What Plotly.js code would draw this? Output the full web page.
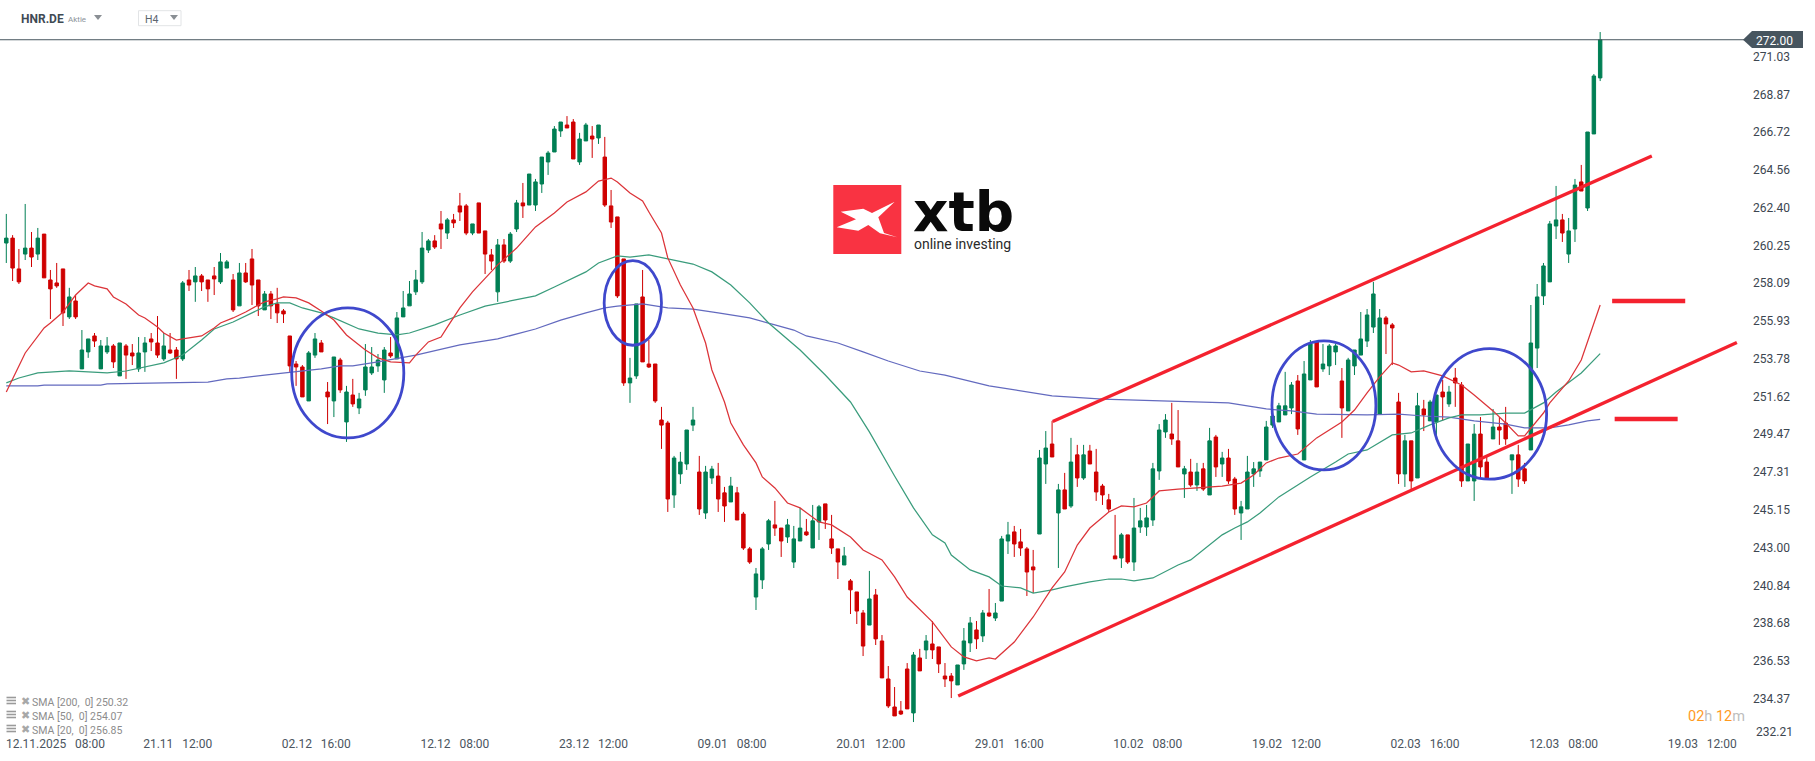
<!DOCTYPE html>
<html><head><meta charset="utf-8">
<script src="https://cdn.plot.ly/plotly-3.0.1.min.js"></script>
<style>html,body{margin:0;padding:0;background:#fff}#c{width:1815px;height:761px}</style>
</head><body><div id="c"></div>
<script>
const open=[260.39,260.67,258.91,259.76,260.10,259.76,260.90,258.28,258.11,258.91,
256.17,257.08,253.20,254.17,255.08,253.20,254.17,254.51,252.80,254.51,
254.11,253.20,254.17,254.91,254.68,253.77,254.28,254.28,253.77,258.28,
258.17,258.51,258.28,258.51,258.17,258.96,258.28,256.80,258.68,259.48,
258.28,256.57,257.48,256.91,256.51,255.08,253.48,253.31,251.37,253.99,
254.68,251.88,251.37,253.71,250.17,251.71,250.97,252.00,252.97,253.37,
252.57,254.11,253.77,256.17,256.80,257.60,258.17,259.99,260.51,261.48,
260.96,261.71,262.51,262.51,260.96,262.68,261.08,259.71,257.60,260.28,
259.36,261.19,262.68,262.56,262.56,263.76,265.02,265.59,266.79,267.13,
267.30,265.02,266.22,266.50,266.39,265.30,262.51,261.88,259.48,252.40,
252.80,257.31,253.48,253.48,250.28,250.11,246.00,247.20,247.77,249.99,
247.31,244.97,246.97,247.08,246.12,245.60,246.12,244.91,242.92,240.17,
241.15,243.20,244.29,244.11,243.60,242.17,243.37,243.89,242.97,244.46,
245.49,243.49,242.92,242.00,241.09,240.46,239.26,238.57,240.29,237.66,
235.49,233.89,233.66,236.06,233.55,236.69,237.15,237.49,237.32,235.66,
235.66,235.15,236.35,237.55,238.29,237.95,239.26,238.97,239.94,243.37,
243.89,243.32,242.92,241.89,243.77,247.77,248.91,244.97,246.29,245.37,
248.29,246.97,248.51,247.31,246.51,245.72,242.52,242.40,243.72,242.17,
244.17,244.17,244.57,247.37,249.60,249.48,249.09,247.20,247.31,246.57,
247.49,246.00,249.31,247.77,248.11,246.91,244.97,245.20,247.20,247.37,
248.00,249.99,250.17,250.57,250.97,252.51,248.00,252.57,254.74,253.20,
253.37,254.17,252.51,250.80,253.37,253.99,254.79,255.59,250.62,256.11,
255.71,251.31,247.20,249.09,246.97,250.91,250.23,250.17,251.88,251.20,
252.68,252.28,246.80,246.80,249.48,247.88,249.20,249.88,250.11,248.00,
248.29,247.49,248.57,254.39,257.37,258.17,261.36,261.71,259.76,261.19,
263.88,262.39,266.62,269.82];
const high=[262.05,260.84,260.05,262.62,261.02,261.25,260.90,258.85,259.25,258.91,
257.83,257.42,255.42,254.91,255.25,254.85,255.02,254.62,254.68,254.62,
254.62,255.02,255.02,255.25,256.22,255.25,255.25,254.45,258.22,258.85,
259.02,258.62,258.28,259.02,259.82,259.42,258.62,259.25,259.25,260.05,
258.28,257.65,257.65,257.83,256.62,255.08,253.65,253.42,254.22,255.25,
254.85,252.45,253.88,253.83,252.23,252.63,251.83,254.62,254.45,254.05,
254.45,255.02,256.45,257.65,258.22,258.85,261.02,260.62,260.84,262.22,
261.82,262.05,263.25,262.62,261.48,262.68,261.08,260.05,260.62,260.62,
261.02,262.85,263.82,264.33,264.05,265.30,265.65,267.07,267.30,267.64,
267.47,266.68,267.25,267.07,267.13,266.45,263.42,261.88,259.48,253.83,
256.91,258.85,254.85,253.48,251.03,250.23,248.23,248.46,249.71,251.03,
248.23,247.66,247.66,247.83,246.46,247.03,246.46,245.03,243.03,241.83,
243.03,244.63,245.66,244.11,244.63,244.23,245.26,244.63,245.43,245.43,
245.49,244.86,242.92,243.03,241.20,240.46,239.43,241.66,240.63,238.00,
236.23,235.03,234.23,236.40,237.03,237.21,238.00,238.80,237.32,236.40,
235.83,236.29,238.40,239.03,238.80,239.43,240.63,239.83,243.66,244.46,
244.23,244.06,243.03,242.86,248.57,249.65,250.23,246.63,247.26,249.26,
248.86,248.86,248.86,248.63,246.63,246.06,244.86,243.83,243.72,245.83,
245.26,245.43,247.83,250.05,250.62,251.26,250.85,247.66,248.06,247.83,
247.83,249.83,249.43,248.46,248.63,247.03,245.66,248.23,247.88,247.88,
250.23,250.85,251.26,253.03,252.45,252.85,253.65,254.85,254.74,254.62,
254.62,254.62,253.25,253.83,254.28,256.45,256.62,258.17,256.62,256.22,
255.82,251.83,249.43,249.09,251.83,251.43,251.43,251.71,252.57,252.23,
253.25,252.45,248.91,250.05,250.45,248.23,250.91,250.45,251.03,248.29,
248.86,247.83,256.85,258.05,259.25,261.65,263.65,262.05,261.82,264.05,
264.85,266.73,270.04,272.44];
const low=[259.25,258.22,258.05,259.42,259.02,259.42,258.40,256.05,257.83,255.65,
256.05,256.05,253.20,253.83,254.45,253.20,254.05,253.25,252.80,252.63,
253.42,253.03,253.03,254.22,253.83,253.65,254.05,252.63,253.65,257.65,
257.03,257.65,257.03,257.42,258.05,258.96,256.45,256.80,258.11,256.85,
256.22,256.57,256.05,255.82,255.82,253.03,252.23,251.60,251.37,253.83,
254.17,250.05,250.45,251.83,249.03,251.03,250.62,251.66,252.85,253.03,
251.83,253.83,253.77,256.17,256.80,257.42,258.05,259.82,260.05,260.05,
260.62,261.25,261.65,260.84,260.84,260.96,258.62,258.85,257.03,259.25,
259.25,261.02,261.82,262.56,262.22,263.25,264.28,265.59,266.45,266.96,
265.19,264.85,266.22,265.25,266.05,262.45,261.25,257.25,252.23,251.26,
252.63,253.60,253.25,251.26,248.63,245.03,245.26,246.63,247.43,249.65,
244.86,244.63,246.63,245.03,244.46,245.60,244.57,242.86,242.06,239.43,
240.63,242.86,243.66,242.46,243.26,241.83,243.37,243.66,242.97,243.43,
244.06,242.63,241.20,242.00,239.20,238.63,236.80,238.57,237.43,235.55,
233.83,233.38,233.43,233.78,233.03,235.95,236.63,236.63,235.83,235.03,
234.40,235.15,236.01,237.03,237.20,237.60,239.03,238.80,239.94,242.63,
242.46,242.52,240.23,240.40,243.77,246.63,248.17,241.83,245.20,245.26,
246.46,246.86,247.77,245.66,245.43,245.03,242.35,241.83,242.06,241.66,
243.83,243.66,244.23,246.86,249.26,248.86,247.60,245.83,246.46,246.23,
246.23,246.00,247.03,247.03,246.63,244.86,243.43,245.20,246.46,247.03,
248.00,249.83,250.17,250.57,250.62,249.43,248.00,252.57,252.17,253.03,
252.85,253.42,249.26,250.80,252.85,253.99,254.45,255.25,250.62,254.05,
253.42,246.63,246.46,246.29,246.97,249.65,250.23,249.14,250.23,251.03,
251.03,246.46,246.80,245.66,246.97,246.97,249.20,248.86,248.86,246.06,
246.46,246.63,248.57,253.25,256.85,258.17,260.62,260.45,259.25,260.45,
263.36,262.22,266.62,269.64];
const close=[260.67,258.96,258.17,260.10,259.59,260.67,258.40,257.77,257.94,256.40,
257.31,256.17,254.28,254.91,254.79,254.51,254.51,253.60,254.68,253.99,
253.94,254.11,254.68,254.74,253.99,254.51,254.11,253.77,258.11,257.99,
258.51,258.17,257.77,258.34,259.31,259.31,256.57,258.68,258.17,257.99,
256.80,257.48,256.80,256.40,256.34,253.37,253.31,251.60,254.11,254.91,
254.17,251.60,253.88,252.00,251.88,251.20,251.48,253.31,253.31,253.71,
254.28,253.94,256.11,256.68,257.48,258.28,260.10,260.51,260.16,261.19,
261.71,261.54,262.16,260.96,261.48,260.96,259.76,259.36,260.28,259.36,
260.90,262.68,262.51,264.33,263.88,265.30,265.53,266.90,267.30,266.96,
265.19,266.33,267.13,266.33,267.13,262.56,261.59,257.37,252.40,252.68,
256.91,253.60,253.31,251.37,249.99,245.77,248.11,247.88,249.71,250.28,
245.20,247.31,247.48,245.77,245.37,246.51,244.57,242.97,242.17,241.49,
242.92,244.52,244.11,243.37,244.29,243.49,244.11,243.72,244.52,245.32,
244.57,242.97,242.17,242.52,240.58,239.37,237.37,240.06,237.78,235.55,
233.95,233.38,233.49,233.78,236.86,235.95,237.66,237.15,236.35,235.49,
235.38,236.29,237.66,238.69,237.78,239.26,239.09,239.26,243.49,243.72,
243.20,242.97,241.60,241.72,248.11,248.68,248.17,246.29,245.20,247.88,
246.97,248.29,247.77,246.17,246.00,245.20,242.35,243.72,242.17,244.11,
244.52,244.69,247.49,249.71,250.28,249.20,247.60,247.49,246.57,247.31,
246.34,249.09,247.60,248.11,246.80,245.20,245.32,247.31,247.49,247.88,
249.88,250.51,251.09,251.09,252.28,249.77,252.91,254.62,252.17,253.48,
254.51,254.51,250.97,253.71,254.28,254.91,256.28,257.48,256.11,255.77,
255.54,247.20,249.09,246.80,251.09,250.57,251.31,251.71,251.60,251.88,
252.40,246.80,248.91,249.48,247.60,246.97,249.88,249.71,249.20,248.29,
246.91,246.80,254.68,257.31,259.08,261.48,261.71,260.96,261.08,263.70,
263.36,266.73,269.93,272.00];

const sma20Idx=[0,3,6,7,9,11,13,14,16,17,19,21,22,24,25,27,28,31,33,34,36,38,40,41,43,44,46,48,50,52,54,57,59,61,64,65,67,69,70,72,74,76,78,81,84,87,89,92,94,96,97,99,101,102,104,105,107,109,111,112,114,115,117,119,120,122,124,126,129,131,133,134,136,139,141,143,147,148,150,152,154,156,157,160,163,166,168,170,172,175,177,179,181,183,186,189,193,196,198,200,202,205,208,212,214,216,218,220,221,223,225,228,231,233,236,238,240,241,244,245,248,250,253];
const sma20=[251.88,254.11,255.54,255.82,256.45,257.42,258.11,257.94,257.77,257.31,256.91,256.28,256.11,255.59,255.25,254.85,254.91,255.08,255.54,255.82,256.11,256.45,256.85,257.03,257.20,257.31,257.25,256.97,256.51,255.99,255.14,254.28,253.83,253.60,253.54,253.99,254.74,255.02,255.59,256.68,257.60,258.40,259.14,260.10,261.31,262.11,262.73,263.31,263.93,264.10,263.88,263.25,262.79,262.16,260.96,259.54,257.99,256.68,254.68,253.14,251.31,250.11,248.86,247.83,247.03,246.40,245.54,245.26,244.46,244.29,243.83,243.60,242.86,242.29,241.32,240.17,238.75,238.29,237.32,236.75,236.52,236.69,236.63,237.60,239.03,240.69,241.60,243.14,244.11,245.03,245.37,245.32,245.54,246.23,246.34,246.40,246.51,246.68,247.14,247.83,248.11,248.34,249.26,250.17,250.85,251.83,252.74,253.54,253.42,253.03,253.08,252.80,252.28,251.71,250.80,250.11,249.37,249.37,250.68,251.26,252.51,253.71,256.85];

const sma50Idx=[0,2,5,7,10,13,16,19,22,25,28,31,33,36,39,41,43,45,47,50,52,56,59,62,64,68,72,76,80,84,87,92,94,97,99,102,105,109,112,115,118,121,126,130,134,137,141,144,147,149,150,153,156,158,161,163,166,168,172,175,177,179,182,186,188,191,193,195,197,199,202,205,207,211,213,216,220,223,226,229,231,234,238,241,244,246,250,253];
const sma50=[252.40,252.68,252.97,253.03,253.08,253.03,252.97,253.08,253.31,253.54,253.99,254.85,255.48,255.88,256.40,256.74,256.97,256.97,256.68,256.40,256.11,255.48,255.25,255.14,255.25,255.71,256.28,256.79,257.08,257.37,257.88,258.74,259.25,259.65,259.59,259.71,259.48,259.19,258.74,257.99,256.97,255.82,254.28,252.85,251.31,249.60,247.08,245.26,243.72,243.26,242.57,241.72,241.32,240.80,240.69,240.40,240.58,240.75,241.03,241.20,241.20,241.09,241.26,242.00,242.29,243.14,243.72,244.11,244.46,244.97,245.89,246.57,247.03,247.88,248.34,248.57,249.43,249.54,250.00,250.40,250.57,250.57,250.68,250.68,251.26,251.88,252.97,254.07];

const sma200Idx=[0,5,6,15,16,29,32,35,37,41,44,50,53,55,59,65,72,78,84,88,92,95,97,101,105,109,113,118,122,125,127,132,136,140,145,149,156,163,166,174,184,190,194,198,200,204,208,216,221,225,229,233,238,241,245,248,251,253];
const sma200=[252.23,252.23,252.28,252.28,252.34,252.40,252.45,252.63,252.68,252.85,252.97,253.20,253.37,253.37,253.60,253.99,254.57,254.91,255.48,255.99,256.40,256.68,256.79,256.91,256.68,256.62,256.40,256.11,255.71,255.42,255.08,254.68,254.17,253.65,253.08,252.85,252.23,251.83,251.66,251.48,251.37,251.31,251.26,251.03,250.91,250.80,250.62,250.57,250.62,250.51,250.45,250.23,250.05,249.83,249.83,250.00,250.23,250.32];

const priceTicks=[271.03,268.87,266.72,264.56,262.40,260.25,258.09,255.93,253.78,251.62,249.47,247.31,245.15,243.00,240.84,238.68,236.53,234.37];
const timeLabels=["12.11.2025   08:00","21.11   12:00","02.12   16:00","12.12   08:00","23.12   12:00","09.01   08:00","20.01   12:00","29.01   16:00","10.02   08:00","19.02   12:00","02.03   16:00","12.03   08:00","19.03   12:00"];
const timeTickIdx=[7.8,27.2,49.2,71.2,93.2,115.2,137.2,159.2,181.2,203.2,225.2,247.2,269.2];
const lastPrice=272.00;

// Drawn analysis: trend lines [x0,y0,x1,y1] and ellipses [x0,x1,yLow,yHigh] in candle index / price
const trendUpper=[166.1,250.19,261.2,265.36];
const trendLower=[151.1,234.52,274.7,254.71];
const levelA=[254.9,257.08,266.5,257.08];
const levelB=[255.3,250.34,265.3,250.34];
const ellipses=[[45.3,63.1,249.26,256.68],[94.9,104.0,254.55,259.38],[200.9,217.4,247.43,254.80],[226.4,244.5,246.90,254.36]];
const legendRows=["SMA [200,  0] 250.32","SMA [50,  0] 254.07","SMA [20,  0] 256.85"];

const W=1752,H=735,FONT='Roboto, sans-serif';
const px=x=>x/W, py=y=>1-y/H;
const path=(pts,close)=>'M'+pts.map(p=>px(p[0]).toFixed(5)+' '+py(p[1]).toFixed(5)).join(' L')+(close?' Z':'');
const paperPoly=(pts,fill)=>({type:'path',xref:'paper',yref:'paper',layer:'above',path:path(pts,true),fillcolor:fill,line:{width:0}});
const note=(text,x,y,size,color,anchor,extra)=>Object.assign({text,xref:'paper',yref:'paper',x:px(x),y:py(y),xanchor:anchor||'left',yanchor:'middle',showarrow:false,borderpad:0,font:{family:FONT,size,color}},extra||{});

const idx=open.map((_,i)=>i);
const sma=(x,y,color)=>({type:'scatter',mode:'lines',x,y,hoverinfo:'skip',line:{color,width:1.25}});
const traces=[
 {type:'candlestick',x:idx,open,high,low,close,whiskerwidth:0,hoverinfo:'skip',
  increasing:{line:{color:'#007f54',width:1},fillcolor:'#007f54'},
  decreasing:{line:{color:'#cf0000',width:1},fillcolor:'#cf0000'}},
 sma(sma200Idx,sma200,'#636abf'),
 sma(sma50Idx,sma50,'#3a9c7c'),
 sma(sma20Idx,sma20,'#dc3439')
];

const seg=(a,w)=>({type:'line',xref:'x',yref:'y',layer:'above',x0:a[0],y0:a[1],x1:a[2],y1:a[3],line:{color:'#f4222f',width:w}});
const tri=(x,y,fill)=>paperPoly([[x-4,y-2.5],[x+4,y-2.5],[x,y+2.5]],fill);
const shapes=[
 {type:'line',xref:'paper',yref:'y',layer:'above',x0:0,x1:1,y0:lastPrice,y1:lastPrice,line:{color:'#47555f',width:1}},
 seg(trendUpper,3.3),seg(trendLower,3.3),seg(levelA,4.6),seg(levelB,4.6),
 ...ellipses.map(e=>({type:'circle',xref:'x',yref:'y',layer:'above',x0:e[0],x1:e[1],y0:e[2],y1:e[3],line:{color:'#3f48cc',width:2.8}})),
 paperPoly([[1743,39.7],[1752,31],[1803,31],[1803,48],[1752,48]],'#47555f'),
 tri(98,17.5,'#8a8f94'),tri(174,17.5,'#8a8f94'),
 {type:'rect',xref:'paper',yref:'paper',layer:'above',x0:px(138.5),x1:px(181),y0:py(10.7),y1:py(25.7),fillcolor:'rgba(255,255,255,0)',line:{color:'#e2e4e6',width:1}},
 {type:'rect',xref:'paper',yref:'paper',layer:'above',x0:px(833.3),x1:px(901.3),y0:py(185),y1:py(254),fillcolor:'#f93342',line:{width:0}},
 paperPoly([[840.7,211.7],[863.3,208.7],[872,213],[894.7,201.7],[878.3,217.3],[884,233],[897.3,237.3],[880,233.3],[868.3,225],[858.3,230.7],[836.7,227.3],[856,219.3]],'#ffffff')
];
legendRows.forEach((_,k)=>{
 const y=701.7+14*k;
 [-5,-2,1].forEach(d=>shapes.push({type:'rect',xref:'paper',yref:'paper',layer:'above',x0:px(6.5),x1:px(16),y0:py(y+d),y1:py(y+d+1.6),fillcolor:'#9a9a9a',line:{width:0}}));
});

const annotations=[
 note('<b>HNR.DE</b>',20,18.7,12,'#3f4a54'),
 note('Aktie',67,19.3,8,'#8b9299'),
 note('H4',143.5,19.3,10.5,'#5c666f'),
 note('<b>xtb</b>',963,211.7,55,'#0a0a0a','center',{font:{family:'DejaVu Sans, sans-serif',size:55,color:'#0a0a0a'}}),
 note('online investing',962.5,243.5,14,'#2a2a2a','center'),
 note('272.00',1755,40.7,12,'#ffffff'),
 note('232.21',1755,731.7,12,'#3c4650'),
 note('<span style="color:#ff9a1f">02</span><span style="color:#bdbdbd">h</span> <span style="color:#ff9a1f">12</span><span style="color:#bdbdbd">m</span>',1746,716,14.5,'#bdbdbd','right')
];
legendRows.forEach((t,k)=>{
 const y=701.7+14*k;
 annotations.push(note('✖',19.5,y-0.5,11,'#a8a8a8','left',{font:{family:'DejaVu Sans',size:11,color:'#a8a8a8'}}));
 annotations.push(note(t,30.6,y+0.5,10.5,'#8c8c8c'));
});

const layout={width:1815,height:761,autosize:false,showlegend:false,paper_bgcolor:'#fff',plot_bgcolor:'#fff',
 margin:{l:0,r:63,t:0,b:26,pad:0},font:{family:FONT},boxgap:0.22,
 xaxis:{type:'linear',range:[-1,277.1],rangeslider:{visible:false},showgrid:false,zeroline:false,showline:false,ticks:'',
  tickmode:'array',tickvals:timeTickIdx,ticktext:timeLabels,tickangle:0,tickfont:{family:FONT,size:12,color:'#4b5560'}},
 yaxis:{side:'right',range:[232.29,274.27],showgrid:false,zeroline:false,showline:false,ticks:'',
  tickmode:'array',tickvals:priceTicks,ticktext:priceTicks.map(v=>v.toFixed(2)),tickfont:{family:FONT,size:12,color:'#3c4650'}},
 shapes,annotations};
Plotly.newPlot('c',traces,layout,{staticPlot:true,displayModeBar:false});
</script></body></html>
